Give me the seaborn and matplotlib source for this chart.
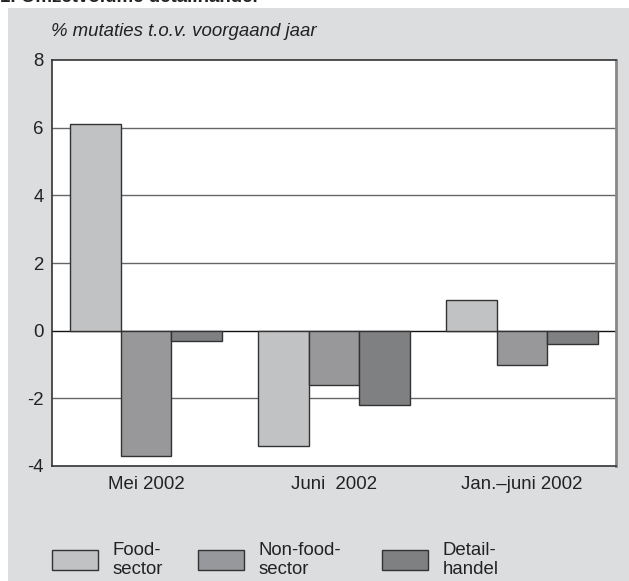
import matplotlib
matplotlib.use("Agg")
import matplotlib.pyplot as plt
import seaborn as sns
import pandas as pd
from matplotlib.patches import Rectangle, Patch

periods = ["Mei 2002", "Juni  2002", "Jan.–juni 2002"]
sectors = ["Food-\nsector", "Non-food-\nsector", "Detail-\nhandel"]
food = [6.1, -3.4, 0.9]
nonfood = [-3.7, -1.6, -1.0]
detail = [-0.3, -2.2, -0.4]
yticks = [-4, -2, 0, 2, 4, 6, 8]
colors = ["#c1c2c4", "#97989b", "#7f8082"]

rows = []
for s, vals in zip(sectors, [food, nonfood, detail]):
    for p, v in zip(periods, vals):
        rows.append({"period": p, "sector": s, "value": v})
df = pd.DataFrame(rows)

sns.set_style("white")
plt.rcParams["font.family"] = ["Liberation Sans", "DejaVu Sans"]

FS = 13.4
W, H = 629, 581
fig = plt.figure(figsize=(W / 100, H / 100), dpi=100, facecolor="white")
bg = Rectangle((8 / W, 0), 1 - 8 / W, 1 - 8 / H, transform=fig.transFigure,
               facecolor="#dcdddf", edgecolor="none", zorder=-10)
fig.add_artist(bg)
fig.text(0.0, 1 + 3 / H, "1. Omzetvolume detailhandel", fontsize=13.5,
         fontweight="bold", ha="left", va="center", color="#222222")

ax = fig.add_axes([52 / W, 1 - 466 / H, (616 - 52) / W, (466 - 60) / H])
ax.set_zorder(1)
ax.set_facecolor("white")
for y in [-2, 2, 4, 6]:
    ax.axhline(y, color="#666666", lw=1.0, zorder=0)
ax.axhline(0, color="#111111", lw=1.0, zorder=0)

sns.barplot(data=df, x="period", y="value", hue="sector", palette=colors,
            width=0.81, edgecolor="#333333", linewidth=1.0, ax=ax,
            legend=False, zorder=2)

ax.set_ylim(-4, 8)
ax.set_xlim(-0.5, 2.5)
ax.set_yticks(yticks)
ax.set_yticklabels([str(t) for t in yticks])
ax.set_xlabel("")
ax.set_ylabel("")
ax.tick_params(axis="both", length=0, labelsize=FS, colors="#222222")
ax.tick_params(axis="y", pad=6)
ax.tick_params(axis="x", pad=7.5)
for side in ["top", "left", "bottom"]:
    ax.spines[side].set_color("#333333")
    ax.spines[side].set_linewidth(1.2)
ax.spines["right"].set_color("#888888")
ax.spines["right"].set_linewidth(2.0)

fig.text(51 / W, 1 - 31 / H, "% mutaties t.o.v. voorgaand jaar", fontsize=FS,
         fontstyle="italic", ha="left", va="center", color="#222222")

legend_x = [52, 198, 382]
for c, lab, lx in zip(colors, sectors, legend_x):
    h = Patch(facecolor=c, edgecolor="#333333", linewidth=1.0)
    leg = fig.legend([h], [lab], loc="center left",
                     bbox_to_anchor=(lx / W, 1 - 560 / H),
                     frameon=False, fontsize=FS, handlelength=2.47,
                     handleheight=1.25, handletextpad=0.78, borderpad=0,
                     borderaxespad=0, labelspacing=0.1)
    for t in leg.get_texts():
        t.set_linespacing(1.12)
        t.set_color("#222222")

fig.savefig("out.png", dpi=100, facecolor="white")
